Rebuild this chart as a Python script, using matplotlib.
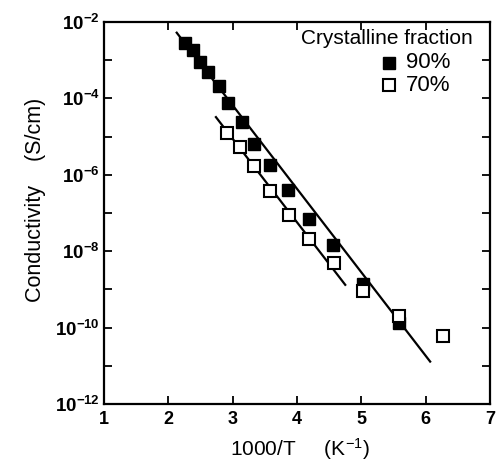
import numpy as np
import matplotlib
matplotlib.use("Agg")
import matplotlib.pyplot as plt
from matplotlib.ticker import FixedLocator, FuncFormatter

plt.rcParams['font.family'] = ['Liberation Sans', 'DejaVu Sans']
plt.rcParams['mathtext.fontset'] = 'custom'
plt.rcParams['mathtext.rm'] = 'Liberation Sans'
plt.rcParams['mathtext.it'] = 'Liberation Sans'
plt.rcParams['mathtext.bf'] = 'Liberation Sans:bold'

# 90% crystalline fraction (filled squares)
x90 = [2.26, 2.39, 2.49, 2.62, 2.78, 2.93, 3.14, 3.33, 3.58, 3.86, 4.18, 4.56, 5.03, 5.59]
logy90 = [-2.56, -2.73, -3.04, -3.30, -3.68, -4.12, -4.62, -5.20, -5.75, -6.39, -7.15, -7.85, -8.86, -9.87]

# 70% crystalline fraction (open squares)
x70 = [2.91, 3.11, 3.33, 3.58, 3.88, 4.19, 4.58, 5.03, 5.59, 6.27]
logy70 = [-4.91, -5.26, -5.78, -6.43, -7.04, -7.68, -8.32, -9.03, -9.69, -10.22]

# fitted lines (end points)
fit90_x = [2.13, 6.07]
fit90_logy = [-2.28, -10.89]
fit70_x = [2.74, 4.75]
fit70_logy = [-4.49, -8.88]

ytick_exp = [-2, -4, -6, -8, -10, -12]

fig = plt.figure(figsize=(5.01, 4.69), dpi=100)
ax = fig.add_axes([0.2076, 0.1386, 0.7704, 0.8145])

ax.plot(fit90_x, 10.0 ** np.array(fit90_logy), color='black', lw=1.6)
ax.plot(fit70_x, 10.0 ** np.array(fit70_logy), color='black', lw=1.6)

ax.plot(x90, 10.0 ** np.array(logy90), 's', color='black', ms=8.5, mec='black')
ax.plot(x70, 10.0 ** np.array(logy70), 's', mfc='white', mec='black', ms=8.5, mew=1.5)

ax.set_yscale('log')
ax.set_xlim(1, 7)
ax.set_ylim(1e-12, 1e-2)

ax.xaxis.set_major_locator(FixedLocator([1, 2, 3, 4, 5, 6, 7]))
ax.yaxis.set_major_locator(FixedLocator([10.0 ** e for e in range(-12, -1)]))
ax.yaxis.set_minor_locator(FixedLocator([]))

def yfmt(v, pos):
    e = int(round(np.log10(v)))
    if e in ytick_exp:
        return r'$\mathbf{10^{%d}}$' % e
    return ''

ax.yaxis.set_major_formatter(FuncFormatter(yfmt))
ax.tick_params(axis='both', which='major', direction='in', length=6, width=1.3,
               top=True, right=True, labelsize=13, pad=5)
ax.tick_params(axis='y', pad=3, labelsize=13.5)
for lab in ax.get_xticklabels():
    lab.set_fontweight('bold')

for s in ax.spines.values():
    s.set_linewidth(1.6)

ax.set_xlabel('1000/T     (K$^{-1}$)', fontsize=15)
ax.xaxis.set_label_coords(0.508, -0.085)
ax.set_ylabel('Conductivity    (S/cm)', fontsize=15.5)
ax.yaxis.set_label_coords(-0.15, 0.534)

# legend drawn by hand to match the layout
ax.text(0.956, 0.958, 'Crystalline fraction', transform=ax.transAxes,
        ha='right', va='center', fontsize=15)
ax.plot([0.738], [0.893], 's', color='black', ms=8.5, transform=ax.transAxes)
ax.plot([0.738], [0.835], 's', mfc='white', mec='black', ms=8.5, mew=1.5,
        transform=ax.transAxes)
ax.text(0.782, 0.893, '90%', transform=ax.transAxes, ha='left', va='center', fontsize=16)
ax.text(0.782, 0.835, '70%', transform=ax.transAxes, ha='left', va='center', fontsize=16)

fig.savefig('out.png', dpi=100)
